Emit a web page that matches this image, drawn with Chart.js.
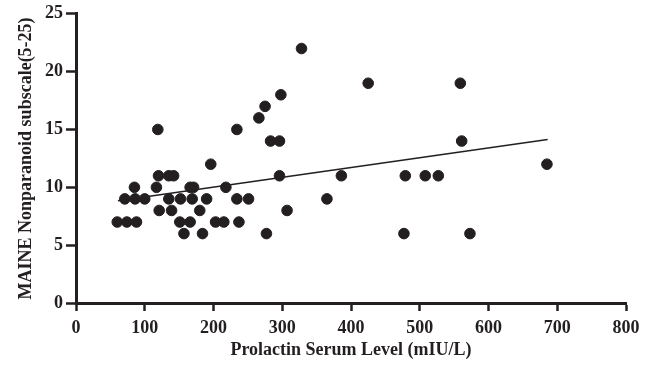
<!DOCTYPE html>
<html lang="en">
<head>
<meta charset="UTF-8">
<title>Prolactin vs MAINE</title>
<style>
  html, body { margin: 0; padding: 0; background: #fff; }
  #wrap { width: 651px; height: 365px; }
</style>
</head>
<body>
<div id="wrap"><canvas id="scatter"></canvas></div>
<script src="https://cdn.jsdelivr.net/npm/chart.js"></script>
<script>
  // prolactin (mIU/L) and MAINE nonparanoid score
  const prolactin = [
    157, 184, 277, 477, 573,
    60, 74, 88, 151, 166, 203, 215, 237,
    121, 139, 180, 307,
    71, 86, 100, 135, 152, 169, 190, 234, 251, 365,
    85, 117, 166, 171, 218,
    120, 135, 142, 296, 386, 479, 508, 527,
    196, 685,
    283, 296, 561,
    119, 234,
    266, 275, 298,
    425, 559,
    328
  ];
  const maine = [
    6, 6, 6, 6, 6,
    7, 7, 7, 7, 7, 7, 7, 7,
    8, 8, 8, 8,
    9, 9, 9, 9, 9, 9, 9, 9, 9, 9,
    10, 10, 10, 10, 10,
    11, 11, 11, 11, 11, 11, 11, 11,
    12, 12,
    14, 14, 14,
    15, 15,
    16, 17, 18,
    19, 19,
    22
  ];
  // fitted line end points
  const fitX = [61, 686];
  const fitY = [8.84, 14.13];

  const serif = "'Liberation Serif', 'Times New Roman', serif";
  const ink = '#231f20';

  new Chart(document.getElementById('scatter'), {
    type: 'scatter',
    data: {
      datasets: [
        {
          label: 'Patients',
          data: prolactin.map((x, i) => ({ x: x, y: maine[i] })),
          backgroundColor: ink,
          borderColor: ink,
          pointRadius: 5.3,
          pointHoverRadius: 5.3
        },
        {
          label: 'Fit',
          type: 'line',
          data: fitX.map((x, i) => ({ x: x, y: fitY[i] })),
          borderColor: ink,
          borderWidth: 1.6,
          pointRadius: 0,
          fill: false
        }
      ]
    },
    options: {
      responsive: true,
      maintainAspectRatio: false,
      animation: false,
      layout: { padding: { left: 0, top: 12, right: 25, bottom: 0 } },
      plugins: {
        legend: { display: false },
        tooltip: { enabled: false }
      },
      scales: {
        x: {
          type: 'linear',
          min: 0, max: 800,
          ticks: { stepSize: 100, color: ink, padding: 7, font: { family: serif, size: 18, weight: 'bold' } },
          grid: { drawOnChartArea: false, color: ink, tickLength: 8, tickWidth: 2.5 },
          border: { color: ink, width: 3 },
          title: { display: true, text: 'Prolactin Serum Level (mIU/L)', color: ink, padding: { top: 2 },
                   font: { family: serif, size: 18, weight: 'bold' } },
          afterFit: s => { s.height = 62; }
        },
        y: {
          min: 0, max: 25,
          ticks: { stepSize: 5, color: ink, padding: 3, font: { family: serif, size: 18, weight: 'bold' } },
          grid: { drawOnChartArea: false, color: ink, tickLength: 10, tickWidth: 2.5 },
          border: { color: ink, width: 3 },
          title: { display: true, text: 'MAINE Nonparanoid subscale(5-25)', color: ink, padding: { top: 16, bottom: 0 },
                   font: { family: serif, size: 18, weight: 'bold' } },
          afterFit: s => { s.width = 76; }
        }
      }
    }
  });
</script>
</body>
</html>
